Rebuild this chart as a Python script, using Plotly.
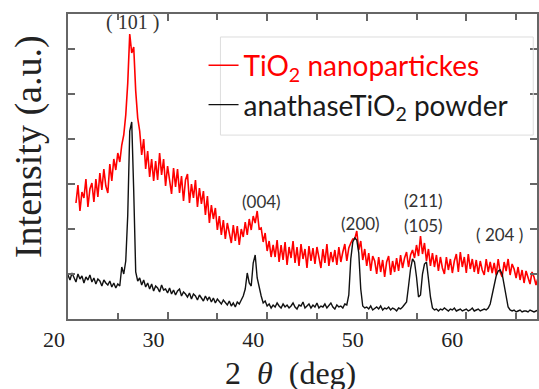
import numpy as np
import plotly.graph_objects as go

# ---- data ----
step = 0.2
black_start = 20.0
red_start = 20.8

black_intensity = [
    44, 39, 46, 41, 37, 45, 40, 43, 36, 42,
    39, 44, 37, 41, 35, 40, 38, 33, 39, 36,
    34, 38, 32, 36, 31, 35, 33, 52, 45, 58,
    104, 188, 197, 128, 47, 38, 41, 34, 39, 32,
    36, 30, 35, 28, 33, 31, 27, 34, 29, 30,
    26, 31, 25, 29, 24, 28, 30, 23, 27, 25,
    22, 26, 20, 25, 23, 19, 24, 21, 18, 23,
    19, 22, 17, 21, 16, 20, 18, 15, 19, 16,
    14, 18, 13, 16, 12, 17, 15, 19, 23, 30,
    46, 36, 33, 56, 64, 41, 30, 23, 16, 18,
    13, 15, 11, 14, 12, 16, 13, 11, 15, 12,
    14, 11, 13, 16, 12, 10, 14, 13, 17, 11,
    13, 15, 11, 14, 12, 16, 11, 13, 12, 15,
    11, 13, 16, 12, 10, 14, 12, 13, 11, 15,
    14, 24, 60, 77, 81, 79, 66, 30, 13, 11,
    12, 10, 13, 9, 11, 12, 10, 13, 9, 11,
    10, 12, 9, 11, 10, 8, 11, 10, 12, 14,
    17, 33, 50, 60, 57, 42, 22, 24, 45, 55,
    57, 40, 22, 11, 9, 10, 8, 10, 9, 11,
    9, 8, 10, 9, 11, 8, 9, 10, 8, 9,
    10, 8, 9, 11, 8, 9, 10, 8, 9, 10,
    9, 11, 15, 24, 35, 43, 48, 49, 45, 33,
    20, 12, 9, 8, 9, 7, 8, 9, 7, 8,
    8, 7, 9, 8, 7, 8, 9,
]

red_intensity = [
    116, 134, 108, 127, 121, 140, 112, 130, 136, 117,
    140, 122, 146, 129, 150, 133, 126, 155, 138, 160,
    149, 166, 157, 174, 184, 204, 236, 285, 266, 272,
    228, 201, 188, 164, 180, 150, 168, 142, 160, 138,
    158, 139, 166, 144, 160, 133, 153, 141, 125, 151,
    132, 150, 126, 143, 118, 139, 145, 116, 135, 121,
    139, 112, 131, 115, 128, 104, 123, 96, 114, 100,
    111, 89, 103, 84, 99, 80, 96, 86, 76, 94,
    78, 93, 74, 90, 82, 97, 84, 100, 89, 103,
    96, 108, 90, 91, 77, 86, 68, 78, 62, 74,
    62, 79, 57, 74, 59, 77, 54, 72, 61, 78,
    56, 72, 53, 75, 60, 70, 51, 73, 58, 71,
    55, 72, 60, 51, 70, 56, 75, 53, 67, 57,
    69, 54, 72, 57, 67, 75, 58, 71, 76, 80,
    80, 88, 69, 78, 59, 70, 53, 66, 48, 63,
    58, 45, 62, 47, 59, 42, 57, 63, 44, 58,
    47, 61, 48, 64, 51, 61, 67, 52, 64, 69,
    61, 74, 63, 83, 65, 76, 58, 70, 53, 66,
    52, 64, 48, 62, 51, 45, 62, 49, 60, 46,
    58, 65, 47, 67, 52, 62, 46, 65, 50, 60,
    47, 59, 45, 58, 49, 44, 60, 47, 57, 46,
    56, 44, 60, 47, 42, 57, 48, 60, 44, 55,
    50, 41, 52, 39, 49, 36, 48, 40, 35, 47,
    42, 34, 41,
]

peak_labels = ["( 101 )", "(004)", "(200)", "(211)", "(105)", "( 204 )"]
peak_x = [26.5, 39.4, 49.4, 55.7, 55.7, 63.3]
peak_y = [297, 118, 96, 119, 94, 85]

tick_vals = [20, 30, 40, 50, 60]
tick_text = ["20", "30", "40", "50", "60"]

two_theta_black = np.round(black_start + step * np.arange(len(black_intensity)), 2)
two_theta_red = np.round(red_start + step * np.arange(len(red_intensity)), 2)

fig = go.Figure()
fig.add_trace(go.Scatter(
    x=two_theta_red, y=red_intensity, mode="lines",
    line=dict(color="#ff0000", width=1.6),
    name='<span style="color:#ff0000">TiO<sub>2</sub> nanopartickes</span>',
))
fig.add_trace(go.Scatter(
    x=two_theta_black, y=black_intensity, mode="lines",
    line=dict(color="#111111", width=1.4),
    name='<span style="color:#1a1a1a">anathaseTiO<sub>2</sub> powder</span>',
))

for lab, px, py in zip(peak_labels, peak_x, peak_y):
    serif = lab == "( 101 )"
    fig.add_annotation(
        x=px, y=py, xref="x", yref="y", text=lab, showarrow=False,
        font=dict(family="Liberation Serif" if serif else "Lato",
                  size=20 if serif else 17, color="#333333"),
    )

# axis titles as text
fig.add_annotation(
    x=-0.083, y=0.564, xref="paper", yref="paper", text="Intensity (a.u.)",
    textangle=-90, showarrow=False, xanchor="center", yanchor="middle",
    font=dict(family="Liberation Serif", size=38, color="#222222"),
)
fig.add_annotation(
    x=0.4735, y=-0.1775, xref="paper", yref="paper",
    text="2\u2002<i>\u03b8</i>\u2002(deg)",
    showarrow=False, xanchor="center", yanchor="middle",
    font=dict(family="Liberation Serif", size=32, color="#222222"),
)

# legend frame
fig.add_shape(type="rect", xref="paper", yref="paper",
              x0=0.325, x1=0.992, y0=0.603, y1=0.9246,
              line=dict(color="#dddddd", width=1), fillcolor="rgba(0,0,0,0)")

fig.update_layout(
    width=539, height=389,
    margin=dict(l=68, r=0, t=14, b=70),
    paper_bgcolor="white", plot_bgcolor="white",
    showlegend=True,
    legend=dict(x=0.289, y=0.913, xanchor="left", yanchor="top",
                bgcolor="rgba(0,0,0,0)", borderwidth=0,
                font=dict(family="Lato", size=28, color="#111111"),
                tracegroupgap=0),
)
fig.update_xaxes(
    range=[20, 67.1], showgrid=False, zeroline=False,
    showline=True, linecolor="#666666", linewidth=2, mirror="allticks",
    ticks="inside", ticklen=7, tickcolor="#666666", tickwidth=1.5,
    tickvals=tick_vals, ticktext=tick_text, ticklabelshift=-14,
    tickfont=dict(family="Liberation Serif", size=22, color="#222222"),
    minor=dict(dtick=5, ticks="inside", ticklen=6, tickcolor="#666666", tickwidth=1.5),
)
fig.update_yaxes(
    range=[0, 305], showgrid=False, zeroline=False,
    showline=True, linecolor="#666666", linewidth=2, mirror="allticks",
    ticks="inside", ticklen=7, tickcolor="#666666", tickwidth=1.5,
    tick0=0, dtick=45, showticklabels=False,
)

fig.write_html("out.html", config={"displayModeBar": False},
               post_script="document.body.style.margin='0';document.body.style.padding='0';")
